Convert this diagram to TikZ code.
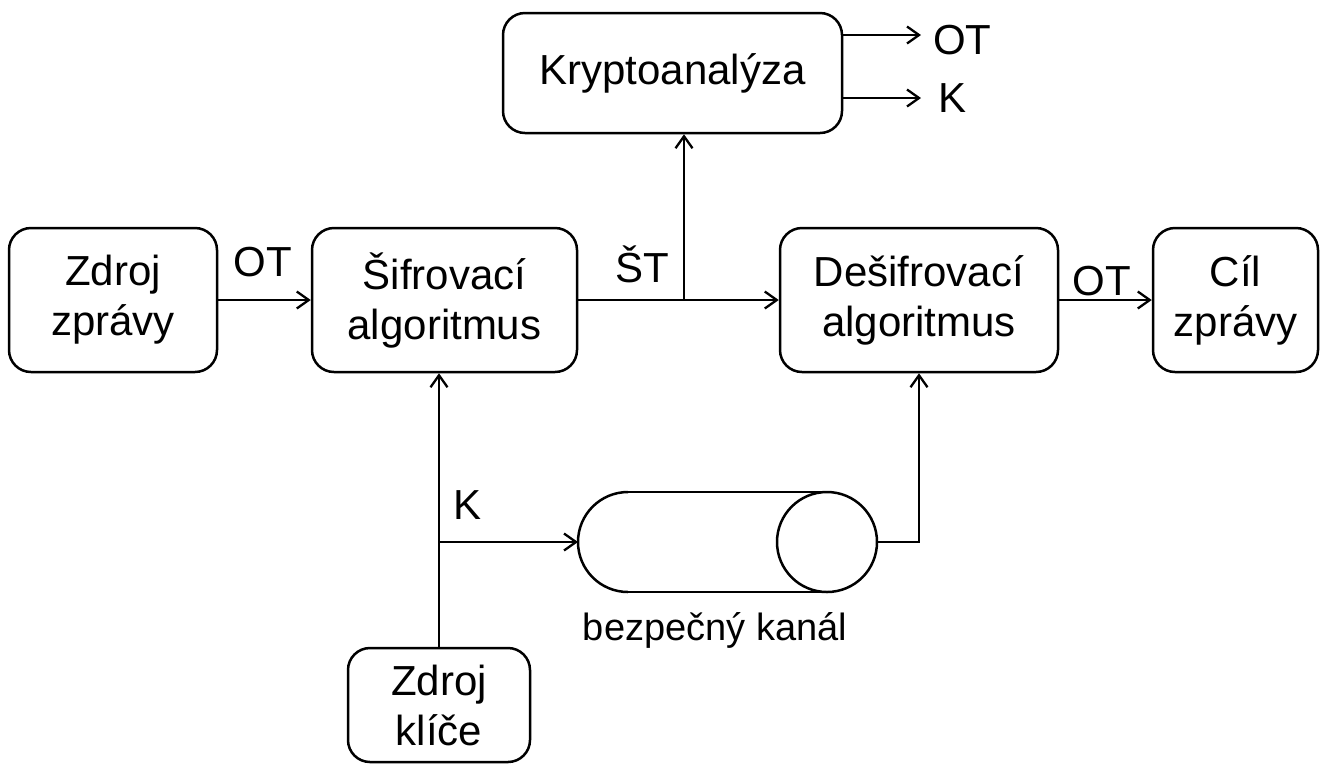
\documentclass[tikz,border=0pt]{standalone}
\usepackage{fontspec}
\setmainfont{Liberation Sans}
\usetikzlibrary{arrows.meta}
\begin{document}
\begin{tikzpicture}[x=0.5pt,y=-0.5pt,
  line width=1.25pt,
  >={Straight Barb[length=6pt,width=8.5pt,line width=1.15pt]},
  box/.style={draw,rounded corners=11pt,align=center,inner sep=0pt,
    font=\fontsize{21pt}{25pt}\selectfont},
  lbl/.style={font=\fontsize{21pt}{25pt}\selectfont,inner sep=0pt}]
\useasboundingbox (0,0) rectangle (1322,768);

% blocks
\node[box,minimum width=104pt,minimum height=72pt] (src) at (113,300) {Zdroj\\zprávy};
\node[box,minimum width=132.5pt,minimum height=72pt] (enc) at (444.5,300) {Šifrovací\\algoritmus};
\node[box,minimum width=139pt,minimum height=72pt] (dec) at (919,300) {Dešifrovací\\algoritmus};
\node[box,minimum width=82.5pt,minimum height=72pt] (dst) at (1235.5,300) {Cíl\\zprávy};
\node[box,minimum width=169.5pt,minimum height=60pt] (crypt) at (672.5,73) {Kryptoanalýza};
\node[box,minimum width=91pt,minimum height=57pt] (keysrc) at (439,705) {Zdroj\\klíče};

% secure channel drawn as a lying cylinder
\draw (628,492) -- (827,492) (628,592) -- (827,592);
\draw (628,492) arc[start angle=90,end angle=270,radius=25pt];
\draw (827,542) circle[radius=25pt];
\coordinate (chanIn) at (578,542);
\coordinate (chanOut) at (877,542);
\node[lbl,font=\fontsize{19pt}{23pt}\selectfont] (chanlbl) at (715,630) {bezpečný kanál};

% message path
\draw[->] (src) -- (enc);
\node[lbl] (ot1) at (263,262) {OT};
\draw[->] (enc) -- (dec);
\node[lbl] (st) at (642,264) {ŠT};
\coordinate (stb) at (684,300);
\draw[->] (stb) -- (stb |- crypt.south);
\draw[->] (dec) -- (dst);
\node[lbl] (ot2) at (1102,281) {OT};

% cryptanalysis results
\coordinate (otOut) at (921,35);
\coordinate (kOut) at (921,98);
\draw[->] (crypt.east |- otOut) -- (otOut);
\draw[->] (crypt.east |- kOut) -- (kOut);
\node[lbl,anchor=west] (ot3) at (932,40) {OT};
\node[lbl,anchor=west] (k2) at (937,98) {K};

% key distribution
\coordinate (kb) at (keysrc.north |- chanIn);
\draw[->] (keysrc.north) -- (keysrc.north |- enc.south);
\draw[->] (kb) -- (chanIn);
\node[lbl] (k1) at (468,505) {K};
\draw[->] (chanOut) -| (dec.south);
\end{tikzpicture}
\end{document}
